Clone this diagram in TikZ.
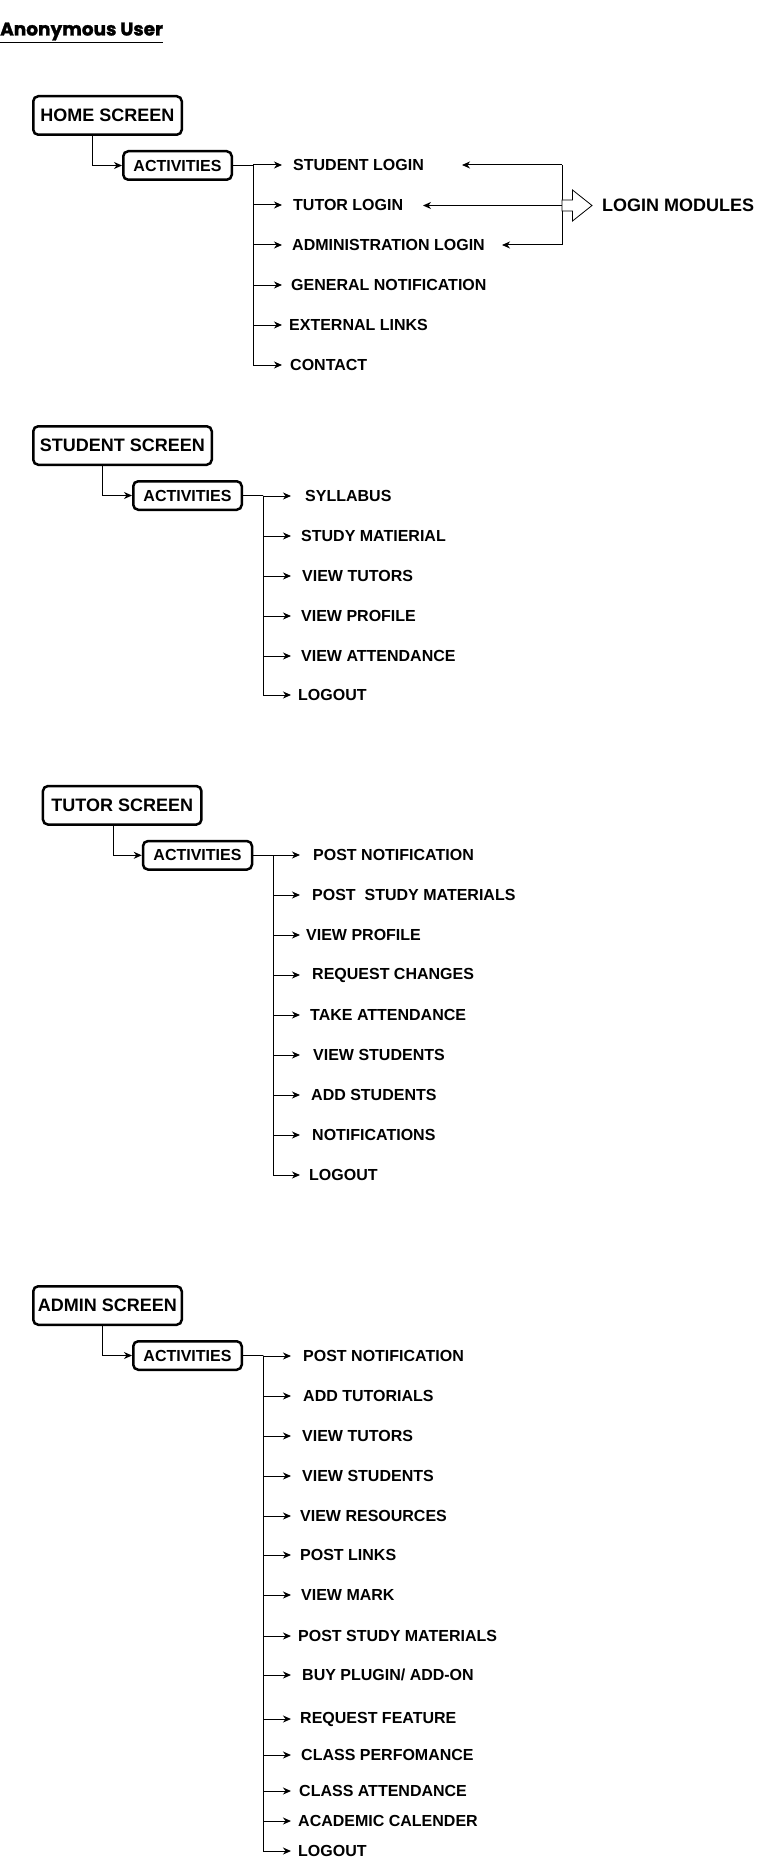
\documentclass[tikz,border=0pt]{standalone}
\usepackage{fontspec}
\setmainfont{Liberation Sans}
\newfontfamily\titlefont[BoldFeatures={FakeBold=1.5}]{Poppins}
\usetikzlibrary{arrows.meta, positioning}

\tikzset{
  screenbox/.style={draw, line width=2.5pt, rounded corners=5pt, minimum height=38.5pt, font=\fontsize{18}{20}\selectfont\bfseries},
  actbox/.style={draw, line width=2.5pt, rounded corners=5pt, minimum height=28.5pt, font=\fontsize{16}{18}\selectfont\bfseries},
  item/.style={anchor=west, inner ysep=2pt, font=\fontsize{16}{18}\selectfont\bfseries},
  link/.style={line width=1pt, -{Stealth[length=8pt,width=7pt,inset=2.5pt]}},
  trunk/.style={line width=1pt},
}

\begin{document}
\begin{tikzpicture}[x=1pt, y=-1pt]
\useasboundingbox (0,0) rectangle (763,1862);

% Title
\node[anchor=base west, inner sep=0pt, font=\titlefont\fontsize{18.5}{20}\selectfont\bfseries] (title) at (0,35.5) {\underline{Anonymous User}};

% Home screen
\node[screenbox, minimum width=148.5pt] (home) at (107.5,115.5) {HOME SCREEN};
\node[actbox, minimum width=108.5pt] (hact) at (177.5,165.5) {ACTIVITIES};
\draw[link] ([xshift=-15.5pt]home.south) |- (hact.west);
\coordinate (hb) at ([xshift=20pt]hact.east);
\draw[trunk] (hact.east) -- (hb);
\foreach \y/\gap/\txt [count=\i] in {165/11/STUDENT LOGIN, 205/11/TUTOR LOGIN,
    245/10/ADMINISTRATION LOGIN, 285/9/GENERAL NOTIFICATION,
    325/7/EXTERNAL LINKS, 365/8/CONTACT}
{
  \node[item, inner xsep=\gap pt] (h\i) at (282,\y) {\txt};
  \draw[link] (hb) |- (h\i.west);
}

% Login modules
\coordinate (lmtop) at (562,165);
\coordinate (lmmid) at (562,205.5);
\coordinate (lmbot) at (562,245);
\coordinate (sltip) at (462,165);
\coordinate (tltip) at (423,205.5);
\coordinate (altip) at (502,245);
\draw[trunk] (lmtop) -- (lmbot);
\draw[link] (lmtop) -- (sltip);
\draw[link] (lmmid) -- (tltip);
\draw[link] (lmbot) -- (altip);
\draw[line width=0.8pt, fill=white] (lmmid) ++(0,-5.5) -- ++(10.5,0) -- ++(0,-10)
  -- ++(19.5,15.5) -- ++(-19.5,15.5) -- ++(0,-10) -- ++(-10.5,0) -- cycle;
\node[anchor=west, inner sep=3pt, font=\fontsize{18}{20}\selectfont\bfseries] (lm) at (599,205.5) {LOGIN MODULES};

% Student screen
\node[screenbox, minimum width=178.5pt] (student) at (122.5,445.5) {STUDENT SCREEN};
\node[actbox, minimum width=108.5pt] (sact) at (187.5,495.5) {ACTIVITIES};
\draw[link] ([xshift=-20.5pt]student.south) |- (sact.west);
\coordinate (sb) at ([xshift=20pt]sact.east);
\draw[trunk] (sact.east) -- (sb);
\foreach \y/\gap/\txt [count=\i] in {496/14/SYLLABUS, 536/10/STUDY MATIERIAL,
    576/11/VIEW TUTORS, 616/10/VIEW PROFILE, 656/10/VIEW ATTENDANCE, 695/7/LOGOUT}
{
  \node[item, inner xsep=\gap pt] (s\i) at (291,\y) {\txt};
  \draw[link] (sb) |- (s\i.west);
}

% Tutor screen
\node[screenbox, minimum width=158.5pt] (tutor) at (122.2,805.3) {TUTOR SCREEN};
\node[actbox, minimum width=109pt] (tact) at (197.5,855.3) {ACTIVITIES};
\draw[link] ([xshift=-9pt]tutor.south) |- (tact.west);
\coordinate (tb) at ([xshift=20pt]tact.east);
\draw[trunk] (tact.east) -- (tb);
\foreach \y/\gap/\txt [count=\i] in {855/13/POST NOTIFICATION,
    895/12/POST\ \ STUDY MATERIALS, 935/6/VIEW PROFILE, 975/12/REQUEST CHANGES,
    1015/10/TAKE ATTENDANCE, 1055/13/VIEW STUDENTS, 1095/11/ADD STUDENTS,
    1135/12/NOTIFICATIONS, 1175/9/LOGOUT}
{
  \node[item, inner xsep=\gap pt] (t\i) at (300,\y) {\txt};
  \draw[link] (tb) |- (t\i.west);
}

% Admin screen
\node[screenbox, minimum width=148.5pt] (admin) at (107.5,1305.5) {ADMIN SCREEN};
\node[actbox, minimum width=108.5pt] (aact) at (187.5,1355.5) {ACTIVITIES};
\draw[link] ([xshift=-5.5pt]admin.south) |- (aact.west);
\coordinate (ab) at ([xshift=20pt]aact.east);
\draw[trunk] (aact.east) -- (ab);
\foreach \y/\gap/\txt [count=\i] in {1356/12/POST NOTIFICATION, 1396/12/ADD TUTORIALS,
    1436/11/VIEW TUTORS, 1476/11/VIEW STUDENTS, 1516/9/VIEW RESOURCES,
    1555/9/POST LINKS, 1595/10/VIEW MARK, 1636/7/POST STUDY MATERIALS,
    1675/11/{BUY PLUGIN/ ADD-ON}, 1719/9/REQUEST FEATURE, 1755/10/CLASS PERFOMANCE,
    1791/8/CLASS ATTENDANCE, 1821/7/ACADEMIC CALENDER, 1851/7/LOGOUT}
{
  \node[item, inner xsep=\gap pt] (a\i) at (291,\y) {\txt};
  \draw[link] (ab) |- (a\i.west);
}
\end{tikzpicture}
\end{document}
